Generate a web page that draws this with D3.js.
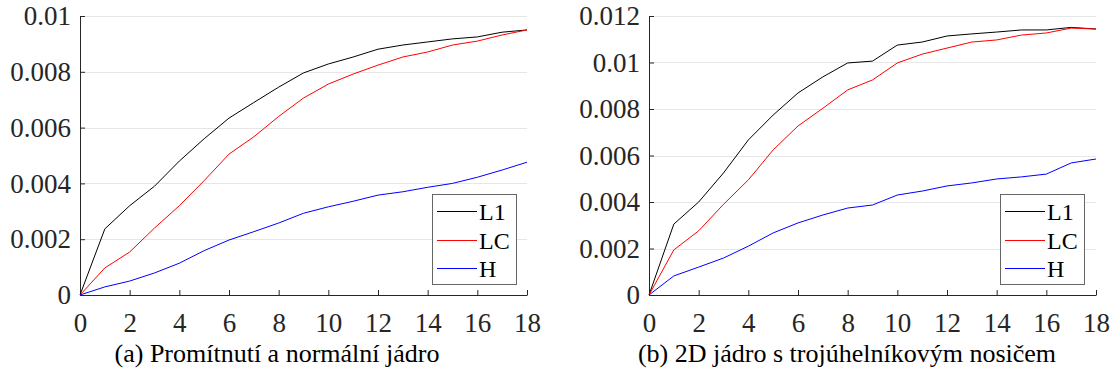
<!DOCTYPE html>
<html>
<head>
<meta charset="utf-8">
<script src="https://cdn.jsdelivr.net/npm/d3@7"></script>
<style>
  body { margin: 0; background: #fff; }
</style>
</head>
<body>
<svg id="fig" width="1117" height="376"></svg>
<script>
var xs = d3.range(0, 19);

// (a) Promítnutí a normální jádro
var a_L1 = [0, 0.00237, 0.0032, 0.0039, 0.0048, 0.0056, 0.00634, 0.0069, 0.00745, 0.00796,
            0.00828, 0.00853, 0.00881, 0.00896, 0.00907, 0.00918, 0.00925, 0.00942, 0.0095];
var a_LC = [0, 0.00097, 0.00154, 0.0024, 0.0032, 0.0041, 0.00505, 0.00567, 0.0064, 0.00706,
            0.00756, 0.00792, 0.00824, 0.00853, 0.00871, 0.00896, 0.0091, 0.00932, 0.0095];
var a_H  = [0, 0.00029, 0.0005, 0.00079, 0.00114, 0.00159, 0.00197, 0.00227, 0.00258, 0.00293,
            0.00316, 0.00336, 0.00358, 0.0037, 0.00386, 0.004, 0.00422, 0.00448, 0.00476];

// (b) 2D jádro s trojúhelníkovým nosičem
var b_L1 = [0, 0.00305, 0.004, 0.00525, 0.00667, 0.00774, 0.00869, 0.00938, 0.00998, 0.01006,
            0.01075, 0.01088, 0.01114, 0.01123, 0.01131, 0.0114, 0.0114, 0.01151, 0.01144];
var b_LC = [0, 0.00194, 0.00276, 0.0039, 0.00495, 0.00624, 0.00727, 0.00803, 0.00882, 0.00925,
            0.00998, 0.01036, 0.01062, 0.01088, 0.01097, 0.01118, 0.01127, 0.01148, 0.01144];
var b_H  = [0, 0.00082, 0.0012, 0.00159, 0.0021, 0.00267, 0.0031, 0.00344, 0.00374, 0.00387,
            0.0043, 0.00447, 0.00469, 0.00482, 0.00499, 0.00508, 0.0052, 0.00568, 0.00585];

var xTicks = [0, 2, 4, 6, 8, 10, 12, 14, 16, 18];
var a_yTicks = [0, 0.002, 0.004, 0.006, 0.008, 0.01];
var b_yTicks = [0, 0.002, 0.004, 0.006, 0.008, 0.01, 0.012];
var names = ["L1", "LC", "H"];
var colors = ["#000000", "#ff0000", "#0000ff"];

var FONT = "'Liberation Serif', 'DejaVu Serif'";

var svg = d3.select("#fig");

function panel(opt) {
    var g = svg.append("g");
    var x = d3.scaleLinear().domain([0, 18]).range([opt.left, opt.right]);
    var y = d3.scaleLinear().domain([0, opt.ymax]).range([295, 16]);

    // grid
    g.selectAll(".grid")
        .data(opt.yTicks.filter(function(d) { return d > 0; }))
        .enter().append("line")
        .attr("x1", opt.left).attr("x2", opt.right)
        .attr("y1", function(d) { return Math.round(y(d)) + 0.5; })
        .attr("y2", function(d) { return Math.round(y(d)) + 0.5; })
        .attr("stroke", "#e6e6e6")
        .attr("stroke-width", 1);

    var xAxis = g.append("g")
        .attr("transform", "translate(0,295)")
        .call(d3.axisBottom(x).tickValues(xTicks).tickSizeInner(-5).tickSizeOuter(0).tickPadding(18)
              .tickFormat(d3.format("d")));

    var yAxis = g.append("g")
        .attr("transform", "translate(" + opt.left + ",0)")
        .call(d3.axisLeft(y).tickValues(opt.yTicks).tickSizeInner(-5).tickSizeOuter(0).tickPadding(9)
              .tickFormat(function(d) { return d === 0 ? "0" : String(+d.toFixed(3)); }));

    [xAxis, yAxis].forEach(function(ax) {
        ax.attr("font-family", null).attr("font-size", null);
        ax.selectAll("text")
            .style("font-family", FONT)
            .style("font-size", "27px")
            .attr("fill", "#262626");
        ax.select(".domain").attr("stroke", "#262626");
        ax.selectAll(".tick line").attr("stroke", "#262626");
    });

    var line = d3.line()
        .x(function(d, i) { return x(xs[i]); })
        .y(function(d) { return y(d); });

    opt.series.forEach(function(s, i) {
        g.append("path")
            .datum(s)
            .attr("fill", "none")
            .attr("stroke", colors[i])
            .attr("stroke-width", 1)
            .attr("d", line);
    });

    // legend
    var lg = g.append("g").attr("transform", "translate(" + opt.legX + ",194)");
    lg.append("rect")
        .attr("x", 0.5).attr("y", 0.5)
        .attr("width", 84).attr("height", 90)
        .attr("fill", "#fff")
        .attr("stroke", "#666")
        .attr("stroke-width", 1);
    names.forEach(function(n, i) {
        var cy = Math.round(17 + i * 28.5) + 0.5;
        lg.append("line")
            .attr("x1", 5).attr("x2", 45)
            .attr("y1", cy).attr("y2", cy)
            .attr("stroke", colors[i])
            .attr("stroke-width", 1);
        lg.append("text")
            .attr("x", 47).attr("y", cy + 8)
            .style("font-family", FONT)
            .style("font-size", "24px")
            .attr("fill", "#000")
            .text(n);
    });

    svg.append("text")
        .attr("x", opt.capX).attr("y", 362)
        .attr("text-anchor", "middle")
        .style("font-family", FONT)
        .style("font-size", "26px")
        .attr("fill", "#000")
        .text(opt.caption);
}

panel({left: 80, right: 527, ymax: 0.01, yTicks: a_yTicks, series: [a_L1, a_LC, a_H],
       legX: 432, capX: 277, caption: "(a) Promítnutí a normální jádro"});
panel({left: 649, right: 1096, ymax: 0.012, yTicks: b_yTicks, series: [b_L1, b_LC, b_H],
       legX: 1000, capX: 847, caption: "(b) 2D jádro s trojúhelníkovým nosičem"});
</script>
</body>
</html>
